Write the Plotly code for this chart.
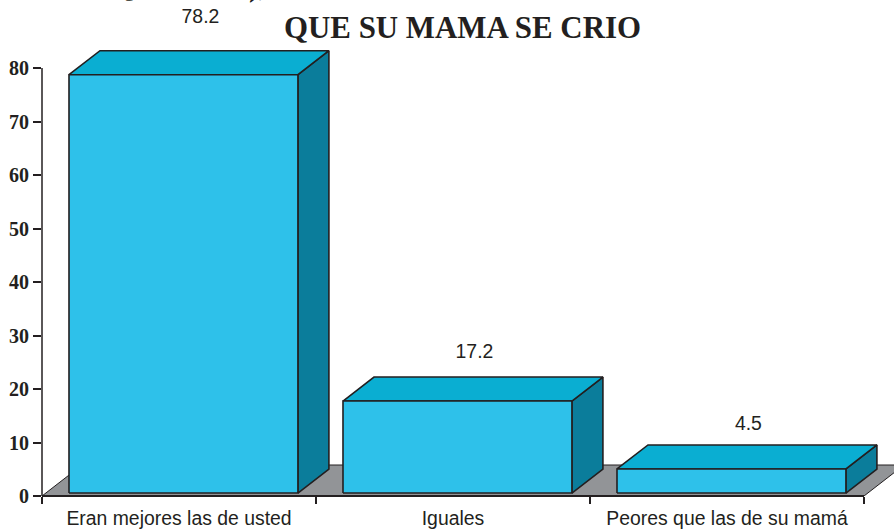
import plotly.graph_objects as go

categories = ["Eran mejores las de usted", "Iguales", "Peores que las de su mamá"]
values = [78.2, 17.2, 4.5]
value_labels = ["78.2", "17.2", "4.5"]
y_ticks = [0, 10, 20, 30, 40, 50, 60, 70, 80]
title = "QUE SU MAMA SE CRIO"

FRONT, TOP, SIDE, FLOOR = "#2ec1ea", "#0aaed2", "#0b7d9b", "#929497"
EDGE = "#231f20"
W, H, ML, MB = 894, 529, 42, 33
PX_X, PX_Y = 274.0, 5.35  # px per category / per unit
DX, DY = 31 / PX_X, 24 / PX_Y
BASE = 0.55
L, R = 0.0985, 0.934
LABEL_GAP = [32.5, 24, 20]
X_MAX = (W - ML) / PX_X
Y_MAX = (H - MB) / PX_Y

fig = go.Figure()


def poly(xs, ys, fill, line=EDGE, width=1.6):
    fig.add_trace(go.Scatter(
        x=xs + xs[:1], y=ys + ys[:1], mode="lines", fill="toself", fillcolor=fill,
        line=dict(color=line, width=width), hoverinfo="skip", showlegend=False))


n = len(categories)
fdx, fdy = 40 / PX_X, 31 / PX_Y
poly([0, n, n + fdx, fdx], [0, 0, fdy, fdy], FLOOR, width=1)

for i, v in enumerate(values):
    x0, x1, y0, y1 = i + L, i + R, BASE, v + BASE
    poly([x1, x1 + DX, x1 + DX, x1], [y0, y0 + DY, y1 + DY, y1], SIDE)
    poly([x0, x1, x1 + DX, x0 + DX], [y1, y1, y1 + DY, y1 + DY], TOP)
    poly([x0, x1, x1, x0], [y0, y0, y1, y1], FRONT)

fig.add_trace(go.Scatter(
    x=[i + (L + R + DX) / 2 + 1.5 / PX_X for i in range(n)],
    y=[v + BASE + DY + g / PX_Y for v, g in zip(values, LABEL_GAP)],
    mode="text", text=value_labels, textposition="middle center",
    textfont=dict(family="Liberation Sans", size=19.4, color=EDGE),
    hoverinfo="skip", showlegend=False))


def px_note(text, px, py, size):
    return dict(text="<b>" + text + "</b>", xref="paper", yref="paper",
                x=(px - ML) / (W - ML), y=(H - MB - py) / (H - MB),
                xanchor="center", yanchor="middle", showarrow=False,
                font=dict(family="Liberation Serif", size=size, color=EDGE))


fig.update_layout(
    width=W, height=H, margin=dict(l=ML, r=0, t=0, b=MB, autoexpand=False),
    paper_bgcolor="white", plot_bgcolor="rgba(0,0,0,0)", showlegend=False,
    xaxis=dict(range=[0, X_MAX], tickvals=[i + 0.5 for i in range(n)], ticktext=categories,
               ticks="", showgrid=False, zeroline=False, showline=False, automargin=False,
               ticklabelstandoff=9,
               tickfont=dict(family="Liberation Sans", size=19.4, color=EDGE),
               minor=dict(tick0=0, dtick=1, ticks="outside", ticklen=7, tickwidth=1.5,
                          tickcolor=EDGE, showgrid=False)),
    yaxis=dict(range=[0, Y_MAX], tickvals=y_ticks, ticks="outside", ticklen=8, tickwidth=1.5,
               tickcolor=EDGE, showgrid=False, zeroline=False, showline=False, automargin=False,
               tickfont=dict(family="Liberation Serif", size=20, color=EDGE, weight="bold")),
    shapes=[
        dict(type="line", xref="paper", yref="y", x0=0, x1=0, y0=0, y1=80,
             line=dict(color=EDGE, width=1.5), layer="above"),
        dict(type="line", xref="x", yref="paper", x0=0, x1=n, y0=0, y1=0,
             line=dict(color=EDGE, width=2), layer="above"),
    ],
    annotations=[px_note(title, 462.5, 27, 30.9),
                 px_note("Q", 122, -14, 30.9), px_note("),", 258, -14, 30.9)],
)
fig.write_html("out.html", config=dict(displayModeBar=False),
               post_script="document.body.style.margin='0';")
